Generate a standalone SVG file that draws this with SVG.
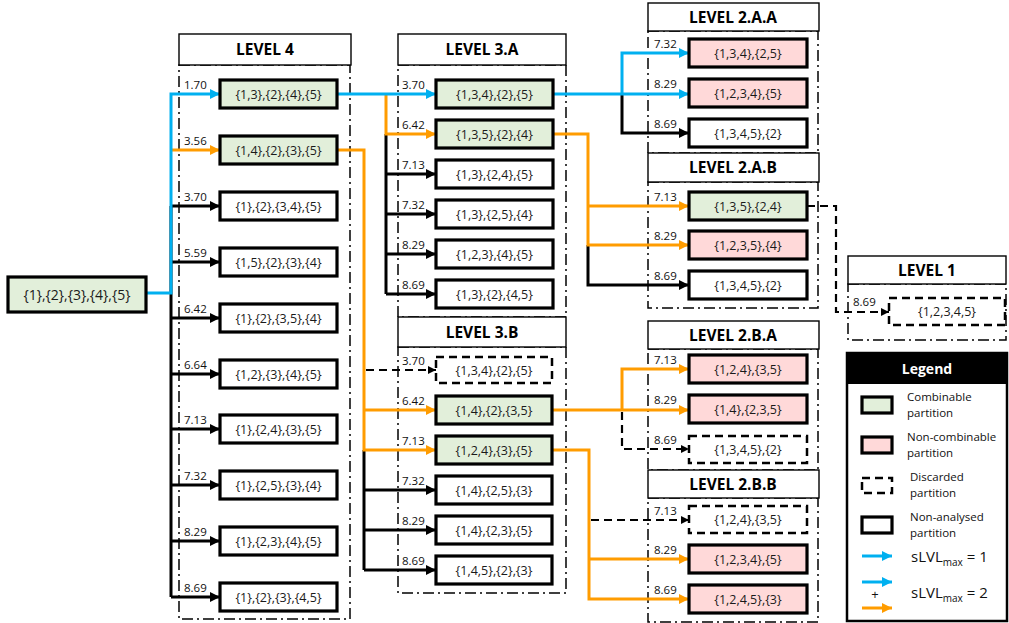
<svg xmlns="http://www.w3.org/2000/svg" width="1009" height="623" viewBox="0 0 1009 623">
<defs>
<style>
.hdr{fill:#fff;stroke:#000;stroke-width:1.4}
.ht{font-family:"Open Sans","Liberation Sans",sans-serif;font-weight:bold;font-size:15.5px;fill:#000;text-anchor:middle}
.cont{fill:none;stroke:#000;stroke-width:1.5;stroke-dasharray:11 4 2 4}
.n{stroke:#000;stroke-width:3.2;fill:#fff}
.g{fill:#E2EFDA}
.r{fill:#FFD9D9}
.d{fill:#fff;stroke:#000;stroke-width:2.5;stroke-dasharray:8 5}
.nt{font-family:"Open Sans","Liberation Sans",sans-serif;font-size:12.5px;fill:#1a1a1a;text-anchor:middle}
.lb{font-family:"Open Sans","Liberation Sans",sans-serif;font-size:11.5px;fill:#111}
.ck{fill:none;stroke:#000;stroke-width:3}
.cb{fill:none;stroke:#00B0F0;stroke-width:3}
.co{fill:none;stroke:#FF9C00;stroke-width:3}
.cd{fill:none;stroke:#000;stroke-width:2.2;stroke-dasharray:8 5}
.lg{font-family:"Open Sans","Liberation Sans",sans-serif;font-size:11.5px;fill:#111}
.sl{font-family:"Open Sans","Liberation Sans",sans-serif;font-size:15px;fill:#111}
</style>
<marker id="ak" markerUnits="userSpaceOnUse" markerWidth="11" markerHeight="11" refX="10" refY="5" orient="auto"><path d="M0,0 L10,5 L0,10 z" fill="#000"/></marker>
<marker id="ab" markerUnits="userSpaceOnUse" markerWidth="11" markerHeight="11" refX="10" refY="5" orient="auto"><path d="M0,0 L10,5 L0,10 z" fill="#00B0F0"/></marker>
<marker id="ao" markerUnits="userSpaceOnUse" markerWidth="11" markerHeight="11" refX="10" refY="5" orient="auto"><path d="M0,0 L10,5 L0,10 z" fill="#FF9C00"/></marker>
<marker id="ad" markerUnits="userSpaceOnUse" markerWidth="9" markerHeight="9" refX="8" refY="4" orient="auto"><path d="M0,0 L8,4 L0,8 z" fill="#000"/></marker>
</defs>
<rect width="1009" height="623" fill="#fff"/>

<g id="containers">
<rect class="cont" x="179" y="65" width="171" height="554"/>
<rect class="hdr" x="179" y="34" width="172" height="31"/>
<text class="ht" x="265" y="55">LEVEL 4</text>

<rect class="cont" x="398" y="65" width="168" height="252"/>
<rect class="cont" x="398" y="347" width="168" height="246"/>
<rect class="hdr" x="398" y="34" width="168" height="31"/>
<text class="ht" x="482" y="55">LEVEL 3.A</text>
<rect class="hdr" x="398" y="317" width="168" height="30"/>
<text class="ht" x="482" y="338">LEVEL 3.B</text>

<rect class="cont" x="648" y="31" width="170" height="122"/>
<rect class="cont" x="648" y="182" width="170" height="126"/>
<rect class="cont" x="648" y="349" width="170" height="121"/>
<rect class="cont" x="648" y="498" width="170" height="124"/>
<rect class="hdr" x="648" y="3" width="171" height="28"/>
<text class="ht" x="733" y="23">LEVEL 2.A.A</text>
<rect class="hdr" x="648" y="153" width="171" height="29"/>
<text class="ht" x="733" y="173">LEVEL 2.A.B</text>
<rect class="hdr" x="648" y="321" width="171" height="28"/>
<text class="ht" x="733" y="341">LEVEL 2.B.A</text>
<rect class="hdr" x="648" y="470" width="171" height="28"/>
<text class="ht" x="733" y="490">LEVEL 2.B.B</text>

<rect class="cont" x="848" y="284" width="158" height="56"/>
<rect class="hdr" x="848" y="256" width="158" height="28"/>
<text class="ht" x="927" y="276">LEVEL 1</text>
</g>

<g id="connectors">
<path class="ck" d="M171,206 V597"/>
<path class="ck" d="M171,206 H220" marker-end="url(#ak)"/>
<path class="ck" d="M171,262 H220" marker-end="url(#ak)"/>
<path class="ck" d="M171,318 H220" marker-end="url(#ak)"/>
<path class="ck" d="M171,374 H220" marker-end="url(#ak)"/>
<path class="ck" d="M171,429 H220" marker-end="url(#ak)"/>
<path class="ck" d="M171,485 H220" marker-end="url(#ak)"/>
<path class="ck" d="M171,541 H220" marker-end="url(#ak)"/>
<path class="ck" d="M171,597 H220" marker-end="url(#ak)"/>
<path class="co" d="M171,150 H220" marker-end="url(#ao)"/>
<path class="cb" d="M146,293 H171 V94 H220" marker-end="url(#ab)"/>

<path class="ck" d="M386,134 V294"/>
<path class="ck" d="M386,174 H436" marker-end="url(#ak)"/>
<path class="ck" d="M386,214 H436" marker-end="url(#ak)"/>
<path class="ck" d="M386,254 H436" marker-end="url(#ak)"/>
<path class="ck" d="M386,294 H436" marker-end="url(#ak)"/>
<path class="co" d="M386,94 V134 H436" marker-end="url(#ao)"/>
<path class="cb" d="M337,94 H436" marker-end="url(#ab)"/>

<path class="ck" d="M364,450 V570"/>
<path class="ck" d="M364,490 H436" marker-end="url(#ak)"/>
<path class="ck" d="M364,530 H436" marker-end="url(#ak)"/>
<path class="ck" d="M364,570 H436" marker-end="url(#ak)"/>
<path class="cd" d="M366,370 H436" marker-end="url(#ad)"/>
<path class="co" d="M337,150 H364 V450 H436" marker-end="url(#ao)"/>
<path class="co" d="M364,410 H436" marker-end="url(#ao)"/>

<path class="ck" d="M622,94 V133 H689" marker-end="url(#ak)"/>
<path class="cb" d="M553,94 H689" marker-end="url(#ab)"/>
<path class="cb" d="M622,94 V53 H689" marker-end="url(#ab)"/>

<path class="ck" d="M588,245 V285 H689" marker-end="url(#ak)"/>
<path class="co" d="M553,134 H588 V245 H689" marker-end="url(#ao)"/>
<path class="co" d="M588,206 H689" marker-end="url(#ao)"/>

<path class="cd" d="M807,206 H836 V312 H889" marker-end="url(#ad)"/>

<path class="cd" d="M622,412 V449 H689" marker-end="url(#ad)"/>
<path class="co" d="M552,410 H689" marker-end="url(#ao)"/>
<path class="co" d="M622,410 V369 H689" marker-end="url(#ao)"/>

<path class="cd" d="M591,520 H689" marker-end="url(#ad)"/>
<path class="co" d="M552,450 H589 V599 H689" marker-end="url(#ao)"/>
<path class="co" d="M589,559 H689" marker-end="url(#ao)"/>
</g>

<g id="root">
<rect class="n g" x="8" y="277" width="138" height="35"/>
<text class="nt" x="77" y="299.5" style="font-size:14px">{1},{2},{3},{4},{5}</text>
</g>

<g id="l4-1"><rect class="n g" x="220" y="80" width="117" height="28"/><text class="nt" x="278.5" y="98.5">{1,3},{2},{4},{5}</text><text class="lb" x="184" y="89">1.70</text></g>
<g id="l4-2"><rect class="n g" x="220" y="136" width="117" height="28"/><text class="nt" x="278.5" y="154.5">{1,4},{2},{3},{5}</text><text class="lb" x="184" y="145">3.56</text></g>
<g id="l4-3"><rect class="n" x="220" y="192" width="117" height="28"/><text class="nt" x="278.5" y="210.5">{1},{2},{3,4},{5}</text><text class="lb" x="184" y="201">3.70</text></g>
<g id="l4-4"><rect class="n" x="220" y="248" width="117" height="28"/><text class="nt" x="278.5" y="266.5">{1,5},{2},{3},{4}</text><text class="lb" x="184" y="257">5.59</text></g>
<g id="l4-5"><rect class="n" x="220" y="304" width="117" height="28"/><text class="nt" x="278.5" y="322.5">{1},{2},{3,5},{4}</text><text class="lb" x="184" y="313">6.42</text></g>
<g id="l4-6"><rect class="n" x="220" y="360" width="117" height="28"/><text class="nt" x="278.5" y="378.5">{1,2},{3},{4},{5}</text><text class="lb" x="184" y="369">6.64</text></g>
<g id="l4-7"><rect class="n" x="220" y="415" width="117" height="28"/><text class="nt" x="278.5" y="433.5">{1},{2,4},{3},{5}</text><text class="lb" x="184" y="424">7.13</text></g>
<g id="l4-8"><rect class="n" x="220" y="471" width="117" height="28"/><text class="nt" x="278.5" y="489.5">{1},{2,5},{3},{4}</text><text class="lb" x="184" y="480">7.32</text></g>
<g id="l4-9"><rect class="n" x="220" y="527" width="117" height="28"/><text class="nt" x="278.5" y="545.5">{1},{2,3},{4},{5}</text><text class="lb" x="184" y="536">8.29</text></g>
<g id="l4-10"><rect class="n" x="220" y="583" width="117" height="28"/><text class="nt" x="278.5" y="601.5">{1},{2},{3},{4,5}</text><text class="lb" x="184" y="592">8.69</text></g>

<g id="l3a-1"><rect class="n g" x="436" y="80" width="117" height="28"/><text class="nt" x="494.5" y="98.5">{1,3,4},{2},{5}</text><text class="lb" x="402" y="89">3.70</text></g>
<g id="l3a-2"><rect class="n g" x="436" y="120" width="117" height="28"/><text class="nt" x="494.5" y="138.5">{1,3,5},{2},{4}</text><text class="lb" x="402" y="129">6.42</text></g>
<g id="l3a-3"><rect class="n" x="436" y="160" width="117" height="28"/><text class="nt" x="494.5" y="178.5">{1,3},{2,4},{5}</text><text class="lb" x="402" y="169">7.13</text></g>
<g id="l3a-4"><rect class="n" x="436" y="200" width="117" height="28"/><text class="nt" x="494.5" y="218.5">{1,3},{2,5},{4}</text><text class="lb" x="402" y="209">7.32</text></g>
<g id="l3a-5"><rect class="n" x="436" y="240" width="117" height="28"/><text class="nt" x="494.5" y="258.5">{1,2,3},{4},{5}</text><text class="lb" x="402" y="249">8.29</text></g>
<g id="l3a-6"><rect class="n" x="436" y="280" width="117" height="28"/><text class="nt" x="494.5" y="298.5">{1,3},{2},{4,5}</text><text class="lb" x="402" y="289">8.69</text></g>

<g id="l3b-1"><rect class="d" x="436" y="357" width="116" height="26"/><text class="nt" x="494" y="374.5">{1,3,4},{2},{5}</text><text class="lb" x="402" y="365">3.70</text></g>
<g id="l3b-2"><rect class="n g" x="436" y="396" width="116" height="28"/><text class="nt" x="494" y="414.5">{1,4},{2},{3,5}</text><text class="lb" x="402" y="405">6.42</text></g>
<g id="l3b-3"><rect class="n g" x="436" y="436" width="116" height="28"/><text class="nt" x="494" y="454.5">{1,2,4},{3},{5}</text><text class="lb" x="402" y="445">7.13</text></g>
<g id="l3b-4"><rect class="n" x="436" y="476" width="116" height="28"/><text class="nt" x="494" y="494.5">{1,4},{2,5},{3}</text><text class="lb" x="402" y="485">7.32</text></g>
<g id="l3b-5"><rect class="n" x="436" y="516" width="116" height="28"/><text class="nt" x="494" y="534.5">{1,4},{2,3},{5}</text><text class="lb" x="402" y="525">8.29</text></g>
<g id="l3b-6"><rect class="n" x="436" y="556" width="116" height="28"/><text class="nt" x="494" y="574.5">{1,4,5},{2},{3}</text><text class="lb" x="402" y="565">8.69</text></g>

<g id="l2aa-1"><rect class="n r" x="689" y="39" width="118" height="28"/><text class="nt" x="748" y="57.5">{1,3,4},{2,5}</text><text class="lb" x="654" y="48">7.32</text></g>
<g id="l2aa-2"><rect class="n r" x="689" y="79" width="118" height="28"/><text class="nt" x="748" y="97.5">{1,2,3,4},{5}</text><text class="lb" x="654" y="88">8.29</text></g>
<g id="l2aa-3"><rect class="n" x="689" y="119" width="118" height="28"/><text class="nt" x="748" y="137.5">{1,3,4,5},{2}</text><text class="lb" x="654" y="128">8.69</text></g>

<g id="l2ab-1"><rect class="n g" x="689" y="192" width="118" height="28"/><text class="nt" x="748" y="210.5">{1,3,5},{2,4}</text><text class="lb" x="654" y="201">7.13</text></g>
<g id="l2ab-2"><rect class="n r" x="689" y="231" width="118" height="28"/><text class="nt" x="748" y="249.5">{1,2,3,5},{4}</text><text class="lb" x="654" y="240">8.29</text></g>
<g id="l2ab-3"><rect class="n" x="689" y="271" width="118" height="28"/><text class="nt" x="748" y="289.5">{1,3,4,5},{2}</text><text class="lb" x="654" y="280">8.69</text></g>

<g id="l2ba-1"><rect class="n r" x="689" y="355" width="118" height="28"/><text class="nt" x="748" y="373.5">{1,2,4},{3,5}</text><text class="lb" x="654" y="364">7.13</text></g>
<g id="l2ba-2"><rect class="n r" x="689" y="395" width="118" height="28"/><text class="nt" x="748" y="413.5">{1,4},{2,3,5}</text><text class="lb" x="654" y="404">8.29</text></g>
<g id="l2ba-3"><rect class="d" x="689" y="436" width="118" height="27"/><text class="nt" x="748" y="454">{1,3,4,5},{2}</text><text class="lb" x="654" y="444">8.69</text></g>

<g id="l2bb-1"><rect class="d" x="689" y="506" width="118" height="27"/><text class="nt" x="748" y="524">{1,2,4},{3,5}</text><text class="lb" x="654" y="515">7.13</text></g>
<g id="l2bb-2"><rect class="n r" x="689" y="545" width="118" height="28"/><text class="nt" x="748" y="563.5">{1,2,3,4},{5}</text><text class="lb" x="654" y="554">8.29</text></g>
<g id="l2bb-3"><rect class="n r" x="689" y="585" width="118" height="28"/><text class="nt" x="748" y="603.5">{1,2,4,5},{3}</text><text class="lb" x="654" y="594">8.69</text></g>

<g id="l1-1"><rect class="d" x="889" y="298" width="116" height="27"/><text class="nt" x="947" y="316">{1,2,3,4,5}</text><text class="lb" x="853" y="306">8.69</text></g>

<g id="legend">
<rect x="847" y="353" width="160" height="268" fill="#fff" stroke="#000" stroke-width="2.5"/>
<rect x="847" y="353" width="160" height="31" fill="#000"/>
<text x="927" y="374" style="font-family:'Open Sans','Liberation Sans',sans-serif;font-size:14px;font-weight:bold;fill:#fff;text-anchor:middle">Legend</text>
<rect class="n g" x="862" y="397" width="30" height="16"/>
<text class="lg" x="907" y="401">Combinable</text>
<text class="lg" x="907" y="417">partition</text>
<rect class="n r" x="862" y="437" width="30" height="16"/>
<text class="lg" x="907" y="441">Non-combinable</text>
<text class="lg" x="907" y="457">partition</text>
<rect class="d" x="862" y="478" width="30" height="15"/>
<text class="lg" x="910" y="481">Discarded</text>
<text class="lg" x="910" y="497">partition</text>
<rect class="n" x="862" y="517" width="30" height="16"/>
<text class="lg" x="910" y="521">Non-analysed</text>
<text class="lg" x="910" y="537">partition</text>
<path class="cb" d="M862,556 H892" marker-end="url(#ab)"/>
<text class="sl" x="911" y="562">sLVL<tspan dy="4" style="font-size:10px">max</tspan><tspan dy="-4"> = 1</tspan></text>
<path class="cb" d="M862,582 H892" marker-end="url(#ab)"/>
<text x="875" y="599" style="font-family:'Open Sans','Liberation Sans',sans-serif;font-size:13px;fill:#111;text-anchor:middle">+</text>
<path class="co" d="M862,608 H892" marker-end="url(#ao)"/>
<text class="sl" x="911" y="598">sLVL<tspan dy="4" style="font-size:10px">max</tspan><tspan dy="-4"> = 2</tspan></text>
</g>
</svg>
